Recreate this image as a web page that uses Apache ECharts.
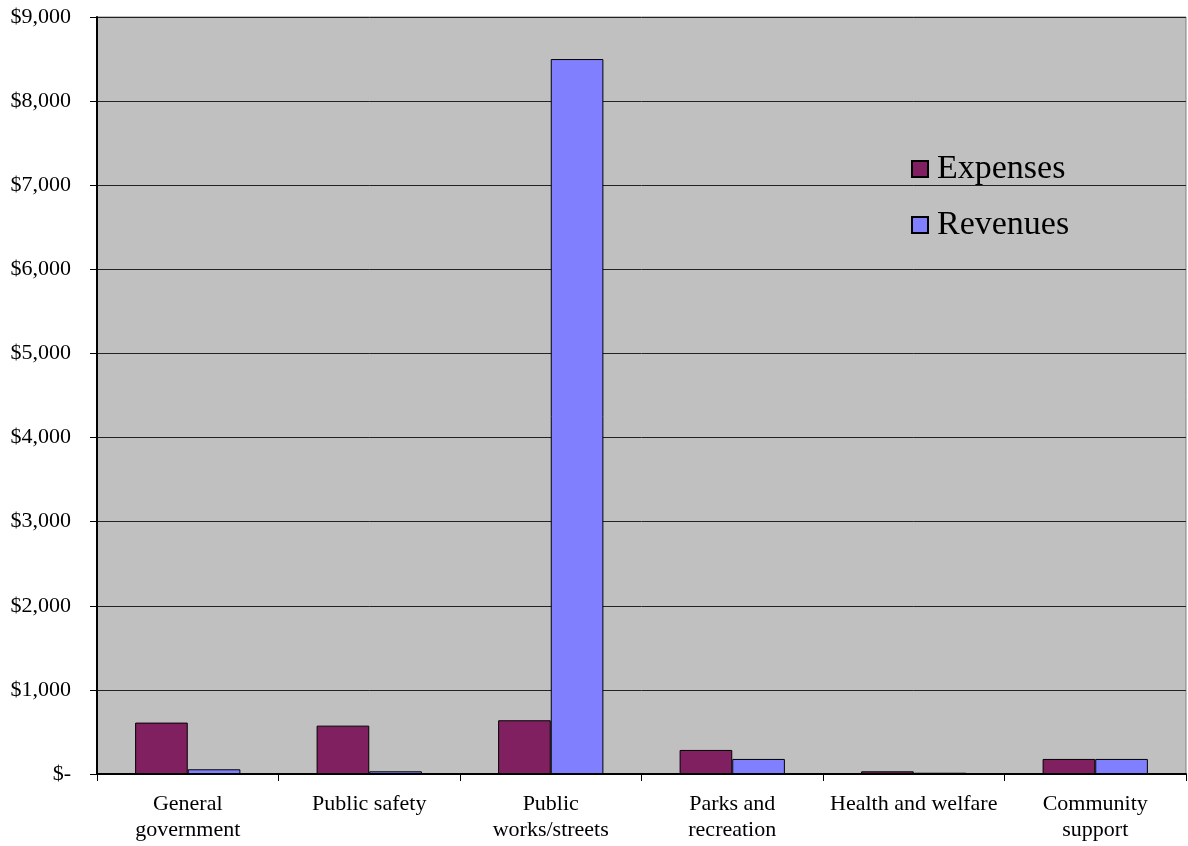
<!DOCTYPE html>
<html>
<head>
<meta charset="utf-8">
<script src="https://cdn.jsdelivr.net/npm/echarts@6/dist/echarts.min.js"></script>
<style>html,body{margin:0;padding:0;background:#fff;}#c{width:1188px;height:846px;}</style>
</head>
<body>
<div id="c"></div>
<script>
var categories = ['General\ngovernment', 'Public safety', 'Public\nworks/streets', 'Parks and\nrecreation', 'Health and welfare', 'Community\nsupport'];
var expenses = [611, 575, 639, 286, 32, 179];
var revenues = [56, 32, 8500, 179, 15, 179];
var seriesNames = ['Expenses', 'Revenues'];

var chart = echarts.init(document.getElementById('c'));
var font = 'Liberation Serif, Times New Roman, serif';
chart.setOption({
  animation: false,
  textStyle: { fontFamily: font },
  grid: { left: 97, right: 2, top: 17, bottom: 72, show: true, backgroundColor: '#C0C0C0', borderColor: '#808080', borderWidth: 1 },
  legend: {
    orient: 'vertical', left: 906, top: 147, itemWidth: 16, itemHeight: 16, itemGap: 22,
    icon: 'rect',
    textStyle: { fontFamily: font, fontSize: 34, color: '#000', padding: [0, 0, 0, 4] },
    data: seriesNames
  },
  xAxis: {
    type: 'category', data: categories,
    axisLine: { lineStyle: { color: '#000', width: 2 } },
    axisTick: { show: true, length: 7, lineStyle: { color: '#000' } },
    axisLabel: { color: '#000', fontSize: 22, fontFamily: font, lineHeight: 26, margin: 17, interval: 0 }
  },
  yAxis: {
    type: 'value', min: 0, max: 9000, interval: 1000,
    axisLine: { show: true, lineStyle: { color: '#000', width: 2 } },
    axisTick: { show: true, length: 7, lineStyle: { color: '#000' } },
    splitLine: { lineStyle: { color: '#222', width: 1 } },
    axisLabel: {
      color: '#000', fontSize: 22, fontFamily: font, margin: 26,
      formatter: function (v) { return v === 0 ? '$-' : '$' + v.toLocaleString('en-US'); }
    }
  },
  series: [
    { name: seriesNames[0], type: 'bar', data: expenses, barGap: '0%', barCategoryGap: '42%',
      itemStyle: { color: '#802060', borderColor: '#000', borderWidth: 1 } },
    { name: seriesNames[1], type: 'bar', data: revenues,
      itemStyle: { color: '#8080FF', borderColor: '#000', borderWidth: 1 } }
  ]
});
</script>
</body>
</html>
